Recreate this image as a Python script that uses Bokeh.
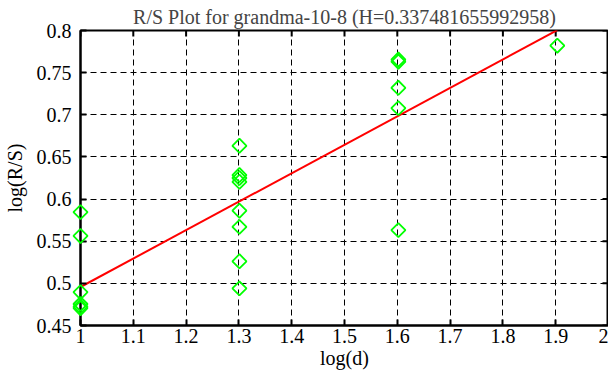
from bokeh.plotting import figure
from bokeh.models import Range1d, FixedTicker, ColumnDataSource
from bokeh.embed import file_html
from bokeh.resources import INLINE
import numpy as np

# ---- data ----
log_d_groups = [1.0, 1.30103, 1.60206, 1.90309]
rs_at_1_0 = [0.5845, 0.5562, 0.4895, 0.4755, 0.4725, 0.4705]
rs_at_1_3 = [0.6632, 0.6285, 0.6250, 0.6205, 0.5862, 0.5670, 0.5262, 0.4940]
rs_at_1_6 = [0.7655, 0.7630, 0.7320, 0.7079, 0.5632]
rs_at_1_9 = [0.7820]
hurst = 0.337481655992958
fit_intercept = 0.1582

x_ticks = [1.0, 1.1, 1.2, 1.3, 1.4, 1.5, 1.6, 1.7, 1.8, 1.9, 2.0]
x_tick_labels = ["1", "1.1", "1.2", "1.3", "1.4", "1.5", "1.6", "1.7", "1.8", "1.9", "2"]
y_ticks = [0.45, 0.5, 0.55, 0.6, 0.65, 0.7, 0.75, 0.8]
y_tick_labels = ["0.45", "0.5", "0.55", "0.6", "0.65", "0.7", "0.75", "0.8"]

title_text = "R/S Plot for grandma-10-8 (H=0.337481655992958)"

groups = [rs_at_1_0, rs_at_1_3, rs_at_1_6, rs_at_1_9]
xs, ys = [], []
for gx, vals in zip(log_d_groups, groups):
    xs += [gx] * len(vals)
    ys += vals

FONT = "Liberation Serif"
X0, X1 = 1, 2
Y0, Y1 = 0.45, 0.8

p = figure(width=608, height=371, output_backend="svg", toolbar_location=None,
           x_range=Range1d(X0, X1), y_range=Range1d(Y0, Y1),
           min_border_left=73, min_border_top=30, min_border_right=0, min_border_bottom=44)

p.title.text = title_text
p.title.align = "center"
p.title.text_font = FONT
p.title.text_font_size = "20px"
p.title.text_font_style = "normal"
p.title.standoff = 5
p.title.offset = 0

p.outline_line_color = "black"
p.outline_line_width = 2
p.outline_line_alpha = 1
p.background_fill_color = "white"
p.border_fill_color = "white"

xt = FixedTicker(ticks=x_ticks, minor_ticks=[])
yt = FixedTicker(ticks=y_ticks, minor_ticks=[])

for ax in p.xaxis:
    ax.ticker = xt
    ax.major_label_overrides = {t: l for t, l in zip(x_ticks, x_tick_labels)}
    ax.axis_label = "log(d)"
for ax in p.yaxis:
    ax.ticker = yt
    ax.major_label_overrides = {t: l for t, l in zip(y_ticks, y_tick_labels)}
    ax.axis_label = "log(R/S)"

for ax in p.axis:
    ax.axis_line_color = "black"
    ax.axis_line_width = 2
    ax.major_tick_in = 6
    ax.major_tick_out = 0
    ax.major_tick_line_width = 2
    ax.major_tick_line_color = "black"
    ax.minor_tick_line_color = None
    ax.major_label_text_font = FONT
    ax.major_label_text_font_size = "20px"
    ax.major_label_text_color = "black"
    ax.axis_label_text_font = FONT
    ax.axis_label_text_font_size = "20px"
    ax.axis_label_text_font_style = "normal"
    ax.axis_label_text_color = "black"

p.xaxis[0].major_label_standoff = 3
p.xaxis[0].axis_label_standoff = 1
p.yaxis[0].major_label_standoff = 9
p.yaxis[0].axis_label_standoff = 8

for g in (p.xgrid[0], p.ygrid[0]):
    g.grid_line_color = "black"
    g.grid_line_dash = "6 4"
    g.grid_line_width = 1
    g.grid_line_alpha = 1
p.xgrid[0].ticker = xt
p.ygrid[0].ticker = yt

# inner ticks on the top and right frame edges
p.scatter(x_ticks, [Y1] * len(x_ticks), marker="dash", angle=np.pi / 2, size=12,
          line_color="black", line_width=2)
p.scatter([X1] * len(y_ticks), y_ticks, marker="dash", size=12,
          line_color="black", line_width=2)

# fitted line
lx = np.array([min(xs), max(xs)])
ly = hurst * lx + fit_intercept
p.line(lx, ly, line_color="#ff0000", line_width=2)

# points as diamonds (rotated squares), drawn unclipped above the axes
src = ColumnDataSource(dict(x=xs, y=ys))
p.scatter("x", "y", source=src, marker="square", angle=np.pi / 4, size=10,
          fill_alpha=0, line_color="#00ff00", line_width=1.8, level="overlay")

open("out.html", "w").write(file_html(p, INLINE))
